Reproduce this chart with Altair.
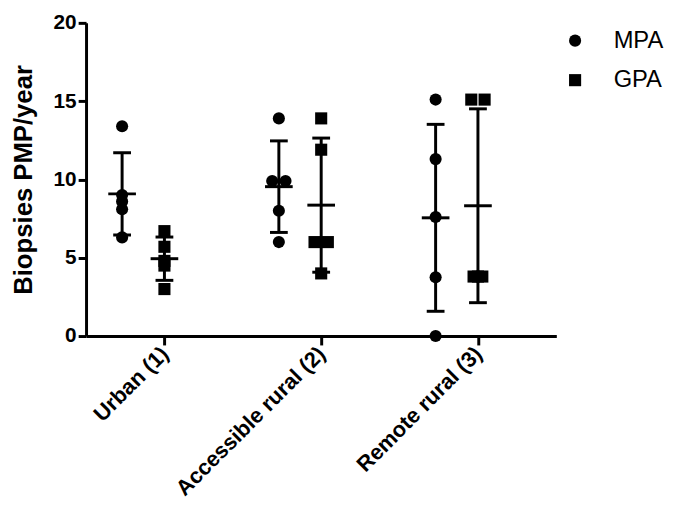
import altair as alt
import pandas as pd

categories = ["Urban (1)", "Accessible rural (2)", "Remote rural (3)"]
groups = ["MPA", "GPA"]
mpa_values = [
    [13.4, 9.0, 8.6, 8.1, 6.3],
    [13.9, 9.9, 9.9, 8.0, 6.0],
    [15.1, 11.3, 7.6, 3.75, 0.0],
]
gpa_values = [
    [6.7, 5.7, 4.8, 4.5, 3.0],
    [13.9, 11.9, 6.0, 6.0, 4.0],
    [15.1, 15.1, 3.8, 3.8, 3.8],
]
y_ticks = [0, 5, 10, 15, 20]
y_title = "Biopsies PMP/year"

rows = []
for i, cat in enumerate(categories):
    for g, vals in (("MPA", mpa_values[i]), ("GPA", gpa_values[i])):
        for v in vals:
            rows.append({"category": cat, "idx": i + 1, "group": g, "value": v})
df = pd.DataFrame(rows)

FONT = "Liberation Sans"
GROUP_SHIFT = 0.27
cat_js = "[" + ",".join("'" + c + "'" for c in categories) + "]"

x_scale = alt.Scale(domain=[0.5, 3.5], nice=False, zero=False)
y_scale = alt.Scale(domain=[0, 20], nice=False)

x_axis = alt.Axis(
    values=[1, 2, 3],
    labelExpr=f"{cat_js}[datum.value - 1]",
    labelAngle=-45,
    labelAlign="right",
    labelBaseline="middle",
    labelPadding=5,
    labelLimit=0,
    labelOverlap=False,
    labelFont=FONT,
    labelFontSize=22,
    labelFontWeight="bold",
    labelColor="black",
    tickSize=9,
    tickWidth=3,
    tickColor="black",
    domainWidth=3,
    domainColor="black",
    grid=False,
    title=None,
)
y_axis = alt.Axis(
    values=y_ticks,
    labelFont=FONT,
    labelFontSize=21,
    labelFontWeight="bold",
    labelColor="black",
    labelPadding=2,
    tickSize=8,
    tickWidth=3,
    tickColor="black",
    domainWidth=3,
    domainColor="black",
    grid=False,
    title=y_title,
    titleFont=FONT,
    titleFontSize=26,
    titleFontWeight="bold",
    titleColor="black",
    titlePadding=17,
)


def X(field):
    return alt.X(field, type="quantitative", scale=x_scale, axis=x_axis, title=None)


def Y(field):
    return alt.Y(field, type="quantitative", scale=y_scale, axis=y_axis, title=y_title)


base = alt.Chart(df).transform_calculate(
    xpos=f"datum.idx - (datum.group === 'MPA' ? {GROUP_SHIFT} : 0)"
)

points = (
    base.transform_window(
        n="count()", k="row_number()", groupby=["category", "group", "value"], frame=[None, None]
    )
    .transform_calculate(
        xp="datum.xpos + (datum.n > 1 ? (datum.k - (datum.n + 1) / 2) * (datum.n == 2 ? 0.085 : 0.028) : 0)"
    )
    .mark_point(filled=True, opacity=1, color="black", size=150)
    .encode(
        x=X("xp"),
        y=Y("value"),
        shape=alt.Shape(
            "group:N",
            scale=alt.Scale(domain=groups, range=["circle", "square"]),
            legend=alt.Legend(
                title=None,
                orient="none",
                legendX=483,
                legendY=6,
                padding=0,
                labelFont=FONT,
                labelFontSize=24,
                labelColor="black",
                labelOffset=27,
                rowPadding=16,
                symbolSize=150,
                symbolFillColor="black",
                symbolStrokeColor="black",
            ),
        ),
    )
)

stats = base.transform_aggregate(
    mean="mean(value)", sd="stdev(value)", groupby=["category", "group", "xpos"]
).transform_calculate(lo="datum.mean - datum.sd", hi="datum.mean + datum.sd")

rules = stats.mark_rule(strokeWidth=3, color="black").encode(
    x=X("xpos"), y=Y("lo"), y2="hi:Q"
)
caps = stats.transform_fold(["lo", "hi"], as_=["end", "yv"]).mark_tick(
    orient="horizontal", size=18, thickness=3, color="black", opacity=1
).encode(x=X("xpos"), y=Y("yv"))
means = stats.mark_tick(
    orient="horizontal", size=28, thickness=3, color="black", opacity=1
).encode(x=X("xpos"), y=Y("mean"))

chart = (
    alt.layer(rules, caps, means, points)
    .properties(
        width=476,
        height=317,
        padding={"left": 79, "top": 12, "right": 110, "bottom": 171},
        autosize=alt.AutoSizeParams(type="none"),
        background="white",
    )
    .configure_view(stroke=None)
)

chart.save("out.html", embed_options={"renderer": "svg", "actions": False})
